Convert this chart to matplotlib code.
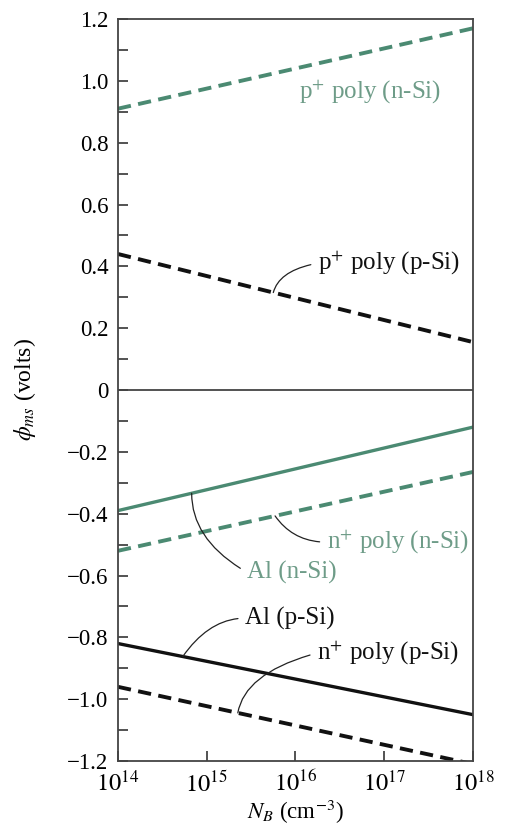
import numpy as np
import matplotlib
matplotlib.use("Agg")
import matplotlib.pyplot as plt
from matplotlib.ticker import FixedLocator, FuncFormatter, NullLocator

# doping range (cm^-3) and phi_ms (volts) at both ends of each line
N_ends = [1e14, 1e18]
p_poly_nsi = [0.91, 1.17]
p_poly_psi = [0.44, 0.155]
al_nsi = [-0.39, -0.12]
n_poly_nsi = [-0.52, -0.265]
al_psi = [-0.82, -1.05]
n_poly_psi = [-0.96, -1.21]

y_major = np.round(np.arange(-1.2, 1.21, 0.2), 1)
y_minor = np.round(np.arange(-1.1, 1.11, 0.2), 1)
x_major = [1e14, 1e15, 1e16, 1e17, 1e18]

GREEN = '#4b8a72'
GREEN_TXT = '#6e9c88'
FRAME = '#444444'

plt.rcParams['font.family'] = ['Liberation Serif', 'DejaVu Serif']
plt.rcParams['mathtext.fontset'] = 'stix'

fig = plt.figure(figsize=(5.13, 8.31), dpi=100)
ax = fig.add_axes([0.230, 0.0842, 0.692, 0.8929])

dash = (0, (3.4, 1.9))
ax.plot(N_ends, p_poly_nsi, color=GREEN, lw=2.8, linestyle=dash)
ax.plot(N_ends, p_poly_psi, color='#111111', lw=2.8, linestyle=dash)
ax.plot(N_ends, al_nsi, color=GREEN, lw=2.4)
ax.plot(N_ends, n_poly_nsi, color=GREEN, lw=2.8, linestyle=dash)
ax.plot(N_ends, al_psi, color='#111111', lw=2.4)
ax.plot(N_ends, n_poly_psi, color='#111111', lw=2.8, linestyle=dash)

ax.axhline(0, color=FRAME, lw=1.3)

ax.set_xscale('log')
ax.set_xlim(1e14, 1e18)
ax.set_ylim(-1.2, 1.2)

FS = 18


def on_line(vals, n):
    # point on a line that is straight in log(N)
    f = (np.log10(n) - 14) / 4
    return vals[0] + f * (vals[1] - vals[0])


def label(text, vals, n_pt, n_txt, y_txt, color, angA, angB):
    ax.annotate(text, xy=(n_pt, on_line(vals, n_pt)), xytext=(n_txt, y_txt),
                ha='left', va='center', fontsize=FS, color=color,
                arrowprops=dict(arrowstyle='-', color='#222222', lw=0.9,
                                connectionstyle=f'angle3,angleA={angA},angleB={angB}',
                                relpos=(0, 0.5), shrinkA=3, shrinkB=0))


ax.text(10**16.04, 0.964, 'p$^{+}$ poly (n-Si)', fontsize=FS, color=GREEN_TXT,
        ha='left', va='center')
label('p$^{+}$ poly (p-Si)', p_poly_psi, 10**15.75, 10**16.25, 0.41, '#111111', 10, 75)
label('Al (n-Si)', al_nsi, 10**14.83, 10**15.45, -0.589, GREEN_TXT, -30, 90)
label('n$^{+}$ poly (n-Si)', n_poly_nsi, 10**15.77, 10**16.35, -0.492, GREEN_TXT, 0, -55)
label('Al (p-Si)', al_psi, 10**14.73, 10**15.43, -0.738, '#111111', 0, 55)
label('n$^{+}$ poly (p-Si)', n_poly_psi, 10**15.35, 10**16.24, -0.851, '#111111', 15, 80)

# axes styling
for side in ['left', 'right', 'top', 'bottom']:
    ax.spines[side].set_color(FRAME)
    ax.spines[side].set_linewidth(1.3)

ax.yaxis.set_major_locator(FixedLocator(y_major))
ax.yaxis.set_minor_locator(FixedLocator(y_minor))
ax.yaxis.set_major_formatter(FuncFormatter(
    lambda v, p: '0' if abs(v) < 1e-9 else f'{v:.1f}'.replace('-', '\u2212')))
ax.xaxis.set_major_locator(FixedLocator(x_major))
ax.xaxis.set_minor_locator(NullLocator())
ax.xaxis.set_major_formatter(FuncFormatter(
    lambda v, p: f'$10^{{{int(round(np.log10(v)))}}}$'))

ax.tick_params(axis='both', which='both', direction='in', length=7.5, width=1.3,
               color=FRAME, top=False, right=False)
ax.tick_params(axis='y', pad=7, labelsize=16.5)
ax.tick_params(axis='x', pad=7, labelsize=17.5)

ax.set_xlabel('$N_B$ (cm$^{-3}$)', fontsize=16.5, labelpad=1)
ax.set_ylabel('$\\phi_{ms}$ (volts)', fontsize=17)
ax.yaxis.set_label_coords(-0.225, 0.5)

fig.savefig('out.png', dpi=100)
